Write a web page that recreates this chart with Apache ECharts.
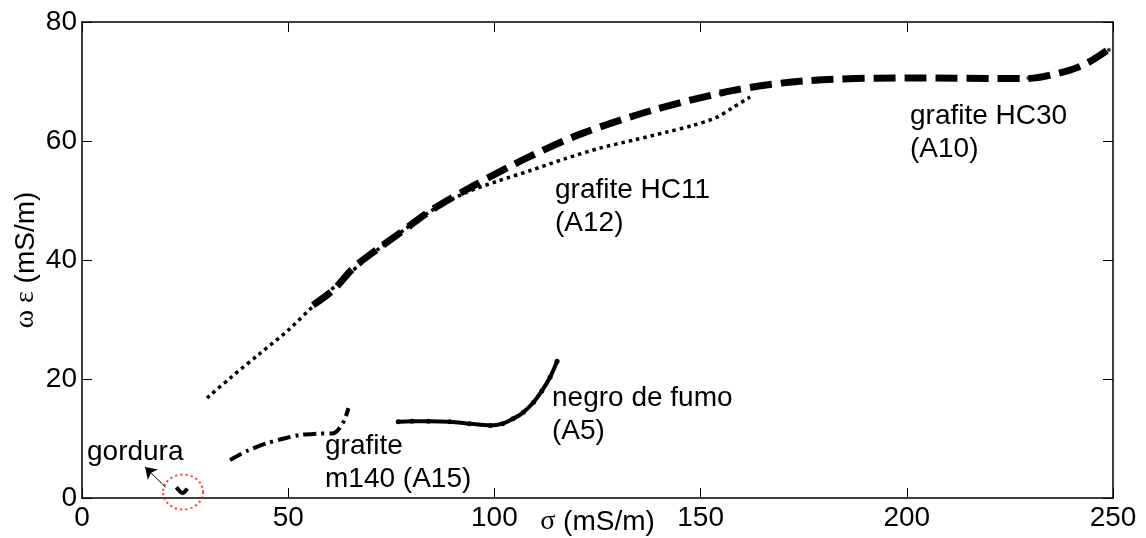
<!DOCTYPE html>
<html>
<head>
<meta charset="utf-8">
<script src="https://cdn.jsdelivr.net/npm/echarts@6/dist/echarts.min.js"></script>
<style>
  html, body { margin: 0; padding: 0; background: #fff; }
  #main { width: 1146px; height: 538px; }
</style>
</head>
<body>
<div id="main"></div>
<script>
// valores (sigma, omega*epsilon) em mS/m
var hc30 = [[56, 32.4], [61, 35], [66, 38.8], [72, 42], [77, 44.5], [85, 48.5], [95, 52.5], [108, 57.2],
            [121, 61.2], [138, 65.1], [158, 68.5], [175, 70.1], [200, 70.6], [229, 70.5], [239, 71.8],
            [244, 73.2], [248.5, 75.2]];
var hc30White = [[127.5, 62.7], [158, 68.6], [229.5, 70.6], [249, 75.3]];
var hc30Black = [[108, 57.3], [121, 61.3], [155, 68], [219, 70.5], [246.4, 74.1]];
var hc11 = [[30.3, 16.8], [36, 20.2], [43, 24.2], [50, 28.2], [56, 32.2], [63, 36.6], [70, 40.8], [77, 44.5],
            [85, 48.4], [93, 51.3], [101, 53.3], [109, 55.1], [117, 57], [125.6, 58.8], [134, 60.2],
            [141.8, 61.5], [148, 62.6], [154, 64], [158, 65.7], [162, 67.4]];
var m140 = [[35.9, 6.4], [40, 7.9], [44.8, 9.2], [49, 10], [52.9, 10.6], [57, 10.8], [61, 10.9],
            [62.6, 11.9], [63.8, 13.4], [64.6, 15.1]];
var negro = [[76.7, 12.8], [80, 12.9], [84, 12.9], [89.2, 12.8], [94, 12.5], [99, 12.2], [102, 12.5],
             [104.5, 13.3], [107, 14.4], [109.5, 16.1], [111.5, 18], [113.5, 20.3], [115.2, 23]];
var gordura = [[22.9, 1.8], [23.6, 1.2], [24.4, 0.8], [25, 1.1], [25.5, 1.6]];
var gorduraCirculo = [[24.5, 1]];

var xTicks = [0, 250, 50];
var yTicks = [0, 80, 20];

var fonte = '"Liberation Sans", Arial, sans-serif';
var serif = '"Liberation Serif", "Times New Roman", serif';
var chart = echarts.init(document.getElementById('main'));

function eixoX(pos, rotulos) {
  return {
    type: 'value', position: pos, min: xTicks[0], max: xTicks[1], interval: xTicks[2],
    axisLine: { show: true, onZero: false, lineStyle: { color: '#000', width: 1.5 } },
    axisTick: { show: true, inside: true, length: 10, lineStyle: { color: '#000', width: 1 } },
    axisLabel: { show: rotulos, margin: 6, color: '#000', fontSize: 28, fontFamily: fonte },
    splitLine: { show: false }
  };
}
function eixoY(pos, rotulos) {
  return {
    type: 'value', position: pos, min: yTicks[0], max: yTicks[1], interval: yTicks[2],
    axisLine: { show: true, onZero: false, lineStyle: { color: '#000', width: 1.5 } },
    axisTick: { show: true, inside: true, length: 10, lineStyle: { color: '#000', width: 1 } },
    axisLabel: { show: rotulos, margin: 5, color: '#000', fontSize: 28, fontFamily: fonte },
    splitLine: { show: false }
  };
}

var estiloNome = {
  color: '#000', fontSize: 28, fontFamily: fonte,
  rich: {
    g: { fontSize: 28, fontFamily: serif, color: '#000' },
    n: { fontSize: 28, fontFamily: fonte, color: '#000' }
  }
};

var xb = eixoX('bottom', true);
xb.name = '{g|σ}{n| (mS/m)}';
xb.nameLocation = 'middle';
xb.nameGap = 10;
xb.nameMoveOverlap = false;
xb.nameTextStyle = estiloNome;
var yl = eixoY('left', true);
yl.name = '{g|ω ε}{n| (mS/m)}';
yl.nameLocation = 'middle';
yl.nameGap = 42;
yl.nameMoveOverlap = false;
yl.nameTextStyle = estiloNome;

var texto = function (t, x, y) {
  return { type: 'text', x: x, y: y, style: { text: t, fill: '#000', font: '28px ' + fonte, lineHeight: 33 } };
};

var option = {
  animation: false,
  backgroundColor: '#fff',
  grid: { left: 82, right: 33, top: 22, bottom: 40, outerBoundsMode: 'none' },
  xAxis: [xb, eixoX('top', false)],
  yAxis: [yl, eixoY('right', false)],
  graphic: [
    texto('grafite HC30\n(A10)', 910, 100),
    texto('grafite HC11\n(A12)', 555, 174),
    texto('negro de fumo\n(A5)', 552, 382),
    texto('grafite\nm140 (A15)', 325, 430),
    texto('gordura', 87, 436)
  ],
  series: [
    {
      name: 'HC11', type: 'line', data: hc11, smooth: 0.3, showSymbol: false,
      lineStyle: { color: '#000', width: 3.5, type: [3.5, 4] }
    },
    {
      name: 'HC30', type: 'line', data: hc30, smooth: 0.3, showSymbol: false,
      lineStyle: { color: '#000', width: 7, type: [22, 9] }
    },
    {
      name: 'HC30 pontos', type: 'scatter', data: hc30Black, symbolSize: 5,
      itemStyle: { color: '#000' }
    },
    {
      name: 'HC30 circulos', type: 'scatter', data: hc30White, symbolSize: 5,
      itemStyle: { color: '#000', borderColor: '#fff', borderWidth: 1.2 }
    },
    {
      name: 'm140', type: 'line', data: m140, smooth: 0.3, showSymbol: false,
      lineStyle: { color: '#000', width: 4, type: [13, 5, 3, 5] }
    },
    {
      name: 'negro', type: 'line', data: negro, smooth: 0.3, symbol: 'circle', symbolSize: 5,
      showAllSymbol: true, itemStyle: { color: '#000' },
      lineStyle: { color: '#000', width: 4 }
    },
    {
      name: 'gordura', type: 'line', data: gordura, smooth: 0.2, showSymbol: false,
      lineStyle: { color: '#000', width: 4 },
      markLine: {
        silent: true, symbol: ['none', 'arrow'], symbolSize: 11,
        lineStyle: { color: '#000', width: 1, type: 'solid' }, label: { show: false },
        data: [[{ coord: [20.3, 1.8] }, { coord: [15.3, 5.2] }]]
      }
    },
    {
      name: 'circulo', type: 'scatter', data: gorduraCirculo, symbol: 'circle', symbolSize: [40, 35],
      itemStyle: { color: 'rgba(0,0,0,0)', borderColor: '#ff0000', borderWidth: 2, borderType: [2, 3] }
    }
  ]
};
chart.setOption(option);
</script>
</body>
</html>
